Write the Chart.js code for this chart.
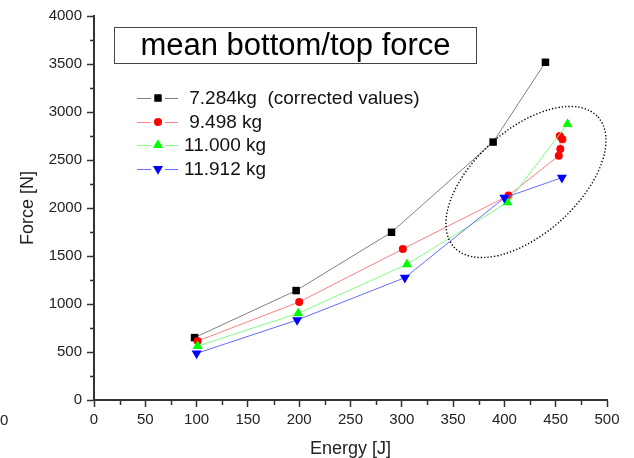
<!DOCTYPE html>
<html>
<head>
<meta charset="utf-8">
<script src="https://cdn.jsdelivr.net/npm/chart.js@4.4.0/dist/chart.umd.min.js"></script>
<style>
    html, body { margin: 0; padding: 0; background: #fff; }
    canvas { display: block; }
</style>
</head>
<body>
<canvas id="chart_force" width="634" height="458"></canvas>
<script>
// values
const seriesLabels = [" 7.284kg  (corrected values)", " 9.498 kg", "11.000 kg", "11.912 kg"];

const energyA = [98, 197, 290, 389, 440];
const forceA  = [650, 1140, 1747, 2687, 3518];

const energyB = [101, 200, 301, 404, 453, 454.5, 454, 456.5];
const forceB  = [615, 1021, 1573, 2130, 2545, 2615, 2750, 2715];

const energyC = [101, 199, 305, 403, 461.5];
const forceC  = [562, 903, 1413, 2059, 2875];

const energyD = [100, 198, 303, 400, 456];
const forceD  = [486, 833, 1274, 2107, 2316];

const xTicks = [0, 50, 100, 150, 200, 250, 300, 350, 400, 450, 500];
const yTicks = [0, 500, 1000, 1500, 2000, 2500, 3000, 3500, 4000];
const xMinor = [25, 75, 125, 175, 225, 275, 325, 375, 425, 475];
const yMinor = [250, 750, 1250, 1750, 2250, 2750, 3250, 3750];

// centre of the dotted ellipse, in data units
const ellipseCenter = [421, 2271];

const FONT = "'Liberation Sans', Arial, sans-serif";
const INK = "#222";

function toPoints(xs, ys) {
    return xs.map((x, i) => ({ x: x, y: ys[i] }));
}

let seriesStyle = [
    { line: "#808080", fill: "#000000", shape: "rect",     radius: 5.3, rotation: 0 },
    { line: "#ff8080", fill: "#ff0000", shape: "circle",   radius: 4,   rotation: 0 },
    { line: "#80ff80", fill: "#00ff00", shape: "triangle", radius: 5.8, rotation: 0 },
    { line: "#6a6aff", fill: "#0000ff", shape: "triangle", radius: 5.8, rotation: 180 }
];

let seriesData = [
    toPoints(energyA, forceA),
    toPoints(energyB, forceB),
    toPoints(energyC, forceC),
    toPoints(energyD, forceD)
];

let datasets = seriesData.map((pts, i) => ({
    label: seriesLabels[i],
    data: pts,
    showLine: true,
    borderColor: seriesStyle[i].line,
    borderWidth: 1,
    backgroundColor: seriesStyle[i].fill,
    pointBackgroundColor: seriesStyle[i].fill,
    pointBorderColor: seriesStyle[i].fill,
    pointBorderWidth: 0,
    pointStyle: seriesStyle[i].shape,
    pointRadius: seriesStyle[i].radius,
    pointRotation: seriesStyle[i].rotation,
    order: 4 - i
}));

// minor ticks, title box, legend, ellipse
const decorPlugin = {
    id: "decor",
    afterDatasetsDraw(chart) {
        let ctx = chart.ctx;
        let xs = chart.scales.x;
        let ys = chart.scales.y;
        let area = chart.chartArea;

        ctx.save();

        // dotted ellipse around the high energy points
        let cx = xs.getPixelForValue(ellipseCenter[0]);
        let cy = ys.getPixelForValue(ellipseCenter[1]);
        ctx.beginPath();
        ctx.setLineDash([1.3, 2]);
        ctx.lineWidth = 1.4;
        ctx.strokeStyle = "#000";
        ctx.ellipse(cx, cy, 97, 52, -42 * Math.PI / 180, 0, Math.PI * 2);
        ctx.stroke();
        ctx.setLineDash([]);

        // minor ticks
        ctx.strokeStyle = "#333";
        ctx.lineWidth = 1.5;
        ctx.beginPath();
        xMinor.forEach(v => {
            let px = Math.round(xs.getPixelForValue(v)) + 0.5;
            ctx.moveTo(px, area.bottom);
            ctx.lineTo(px, area.bottom + 5);
        });
        yMinor.forEach(v => {
            let py = Math.round(ys.getPixelForValue(v)) + 0.5;
            ctx.moveTo(area.left, py);
            ctx.lineTo(area.left - 4, py);
        });
        ctx.stroke();

        // boxed title
        ctx.lineWidth = 1;
        ctx.strokeStyle = "#444";
        ctx.strokeRect(114.5, 27.5, 362, 36);
        ctx.fillStyle = "#000";
        ctx.font = "31px " + FONT;
        ctx.textAlign = "center";
        ctx.textBaseline = "middle";
        ctx.fillText("mean bottom/top force", 295.5, 46);

        // legend
        let legendY = [98, 122, 145, 169];
        ctx.font = "19px " + FONT;
        ctx.textAlign = "left";
        seriesLabels.forEach((label, i) => {
            let st = seriesStyle[i];
            let y = legendY[i];
            ctx.strokeStyle = st.line;
            ctx.lineWidth = 1;
            ctx.beginPath();
            ctx.moveTo(137, y + 0.5);
            ctx.lineTo(151, y + 0.5);
            ctx.moveTo(165, y + 0.5);
            ctx.lineTo(178, y + 0.5);
            ctx.stroke();
            ctx.fillStyle = st.fill;
            ctx.strokeStyle = st.fill;
            Chart.helpers.drawPoint(ctx, {
                pointStyle: st.shape,
                radius: st.radius,
                rotation: st.rotation,
                borderWidth: 0
            }, 158, y);
            ctx.fillStyle = "#111";
            ctx.fillText(label, 184, y + 1);
        });

        // stray label at the lower left edge of the reference
        ctx.font = "15px " + FONT;
        ctx.fillStyle = INK;
        ctx.fillText("0", 0, 421);

        ctx.restore();
    }
};

let ctx = document.getElementById("chart_force").getContext("2d");
new Chart(ctx, {
    type: "scatter",
    data: { datasets: datasets },
    options: {
        responsive: false,
        animation: false,
        devicePixelRatio: 1,
        layout: { padding: { top: 16, right: 27, left: 0, bottom: 0 } },
        plugins: {
            legend: { display: false },
            tooltip: { enabled: false }
        },
        scales: {
            x: {
                type: "linear",
                min: 0,
                max: 500,
                afterBuildTicks: s => { s.ticks = xTicks.map(v => ({ value: v })); },
                afterFit: s => { s.height = 58; },
                grid: { drawOnChartArea: false, tickLength: 7, tickWidth: 1.5, tickColor: "#333" },
                border: { color: "#333", width: 2 },
                ticks: {
                    color: INK,
                    font: { family: FONT, size: 15 },
                    padding: 4,
                    maxRotation: 0,
                    autoSkip: false,
                    callback: v => String(v)
                },
                title: {
                    display: true,
                    text: "Energy [J]",
                    color: INK,
                    font: { family: FONT, size: 18, lineHeight: 1 },
                    padding: { top: -1, bottom: 0 }
                }
            },
            y: {
                type: "linear",
                min: 0,
                max: 4000,
                afterBuildTicks: s => { s.ticks = yTicks.map(v => ({ value: v })); },
                afterFit: s => { s.width = 94; },
                grid: { drawOnChartArea: false, tickLength: 7, tickWidth: 1.5, tickColor: "#333" },
                border: { color: "#333", width: 2 },
                ticks: {
                    color: INK,
                    font: { family: FONT, size: 15 },
                    padding: 5,
                    autoSkip: false,
                    callback: v => String(v)
                },
                title: {
                    display: true,
                    text: "Force [N]",
                    color: INK,
                    font: { family: FONT, size: 18, lineHeight: 1.2 },
                    padding: { top: 17, bottom: 0 }
                }
            }
        }
    },
    plugins: [decorPlugin]
});
</script>
</body>
</html>
